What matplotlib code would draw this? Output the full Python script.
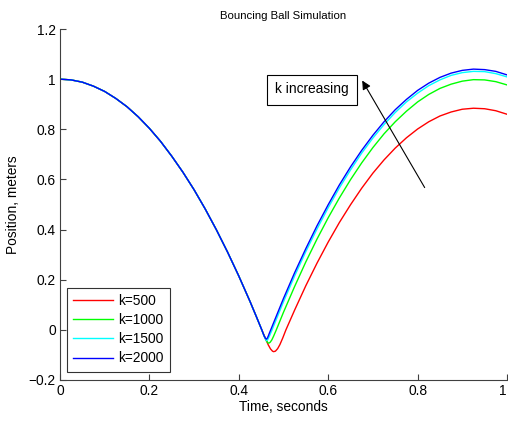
import matplotlib
matplotlib.use("Agg")
import matplotlib.pyplot as plt
from matplotlib.patches import Rectangle

plt.rcParams['font.family'] = ['Liberation Sans', 'DejaVu Sans']
plt.rcParams['axes.unicode_minus'] = True

# free fall before the ball touches the ground (same for every k)
t_fall = [0.0, 0.025, 0.05, 0.075, 0.1, 0.125, 0.15, 0.175, 0.2, 0.225, 0.25, 0.275,
          0.3, 0.325, 0.35, 0.375, 0.4, 0.425, 0.44, 0.4515]
y_fall = [1.000, 0.997, 0.988, 0.972, 0.951, 0.923, 0.890, 0.850, 0.804, 0.752, 0.693, 0.629,
          0.559, 0.482, 0.399, 0.310, 0.215, 0.114, 0.050, 0.000]

# contact + flight after the bounce, one series per spring constant
t_k500 = [0.456, 0.461, 0.466, 0.471, 0.4755, 0.478, 0.482, 0.487, 0.492, 0.4985, 0.5055,
          0.525, 0.55, 0.575, 0.6, 0.625, 0.65, 0.675, 0.7, 0.725, 0.75, 0.775, 0.8,
          0.825, 0.85, 0.875, 0.9, 0.925, 0.95, 0.975, 1.0]
y_k500 = [-0.019, -0.040, -0.060, -0.076, -0.085, -0.087, -0.085, -0.075, -0.059, -0.032, 0.000,
          0.079, 0.176, 0.266, 0.350, 0.428, 0.499, 0.565, 0.625, 0.678, 0.725, 0.766, 0.801,
          0.830, 0.853, 0.869, 0.880, 0.884, 0.882, 0.874, 0.860]

t_k1000 = [0.455, 0.4585, 0.462, 0.4655, 0.4675, 0.4705, 0.474, 0.478, 0.484,
           0.5, 0.525, 0.55, 0.575, 0.6, 0.625, 0.65, 0.675, 0.7, 0.725, 0.75, 0.775, 0.8,
           0.825, 0.85, 0.875, 0.9, 0.925, 0.95, 0.975, 1.0]
y_k1000 = [-0.016, -0.031, -0.044, -0.052, -0.053, -0.049, -0.040, -0.025, 0.000,
           0.070, 0.173, 0.271, 0.362, 0.447, 0.526, 0.599, 0.666, 0.727, 0.782, 0.830, 0.872, 0.909,
           0.939, 0.963, 0.980, 0.992, 0.998, 0.997, 0.990, 0.977]

t_k1500 = [0.4545, 0.457, 0.4595, 0.462, 0.4645, 0.467, 0.4705, 0.4745,
           0.5, 0.525, 0.55, 0.575, 0.6, 0.625, 0.65, 0.675, 0.7, 0.725, 0.75, 0.775, 0.8,
           0.825, 0.85, 0.875, 0.9, 0.925, 0.95, 0.975, 1.0]
y_k1500 = [-0.015, -0.027, -0.037, -0.043, -0.040, -0.031, -0.017, 0.000,
           0.112, 0.215, 0.312, 0.402, 0.487, 0.566, 0.638, 0.705, 0.765, 0.819, 0.867, 0.909, 0.944,
           0.974, 0.997, 1.015, 1.026, 1.031, 1.030, 1.022, 1.009]

t_k2000 = [0.4545, 0.457, 0.4595, 0.4615, 0.4635, 0.466, 0.4685, 0.4715,
           0.5, 0.525, 0.55, 0.575, 0.6, 0.625, 0.65, 0.675, 0.7, 0.725, 0.75, 0.775, 0.8,
           0.825, 0.85, 0.875, 0.9, 0.925, 0.95, 0.975, 1.0]
y_k2000 = [-0.014, -0.025, -0.033, -0.037, -0.034, -0.025, -0.013, 0.000,
           0.125, 0.228, 0.324, 0.415, 0.499, 0.578, 0.650, 0.716, 0.776, 0.830, 0.878, 0.919, 0.955,
           0.984, 1.007, 1.024, 1.035, 1.040, 1.038, 1.031, 1.017]

labels = ['k=500', 'k=1000', 'k=1500', 'k=2000']
colors = ['#ff0000', '#00ff00', '#00ffff', '#0000ff']
x_ticks = [0, 0.2, 0.4, 0.6, 0.8, 1]
x_ticklabels = ['0', '0.2', '0.4', '0.6', '0.8', '1']
y_ticks = [-0.2, 0, 0.2, 0.4, 0.6, 0.8, 1, 1.2]
y_ticklabels = ['\u22120.2', '0', '0.2', '0.4', '0.6', '0.8', '1', '1.2']

series = [(t_k500, y_k500), (t_k1000, y_k1000), (t_k1500, y_k1500), (t_k2000, y_k2000)]

fs = 9.9

fig = plt.figure(figsize=(5.08, 4.21), dpi=100)
ax = fig.add_axes([0.118, 0.0974, 0.880, 0.8337])

for (t, y), lab, c in zip(series, labels, colors):
    ax.plot(t_fall + t, y_fall + y, color=c, lw=1.0, label=lab)

ax.set_xlim(0, 1)
ax.set_ylim(-0.2, 1.2)
ax.set_xticks(x_ticks)
ax.set_xticklabels(x_ticklabels)
ax.set_yticks(y_ticks)
ax.set_yticklabels(y_ticklabels)
ax.tick_params(direction='in', length=4, width=0.8, labelsize=fs, colors='#404040',
               labelcolor='black', pad=3)
# keep the last x label inside the figure
ax.get_xticklabels()[-1].set_horizontalalignment('right')
for side in ['top', 'right']:
    ax.spines[side].set_visible(False)
for side in ['left', 'bottom']:
    ax.spines[side].set_color('#404040')
    ax.spines[side].set_linewidth(0.8)

ax.set_title('Bouncing Ball Simulation', fontsize=8.2, pad=7)
ax.set_xlabel('Time, seconds', fontsize=fs, labelpad=1)
ax.set_ylabel('Position, meters', fontsize=fs, labelpad=6)

leg = ax.legend(loc='lower left', bbox_to_anchor=(0.016, 0.024), borderaxespad=0,
                fontsize=fs, handlelength=2.9, handletextpad=0.36, labelspacing=0.38,
                fancybox=False, frameon=True, borderpad=0.45)
leg.get_frame().set_edgecolor('black')
leg.get_frame().set_linewidth(0.8)

# annotation box and arrow
ax.add_patch(Rectangle((0.463, 0.897), 0.201, 0.120, facecolor='white',
                       edgecolor='black', lw=0.8, zorder=5))
ax.text(0.5635, 0.959, 'k increasing', ha='center', va='center', fontsize=fs, zorder=6)
ax.annotate('', xy=(0.673, 1.004), xytext=(0.819, 0.558),
            arrowprops=dict(arrowstyle='-|>', color='black', lw=0.8, mutation_scale=13),
            zorder=6)

fig.savefig('out.png', dpi=100)
